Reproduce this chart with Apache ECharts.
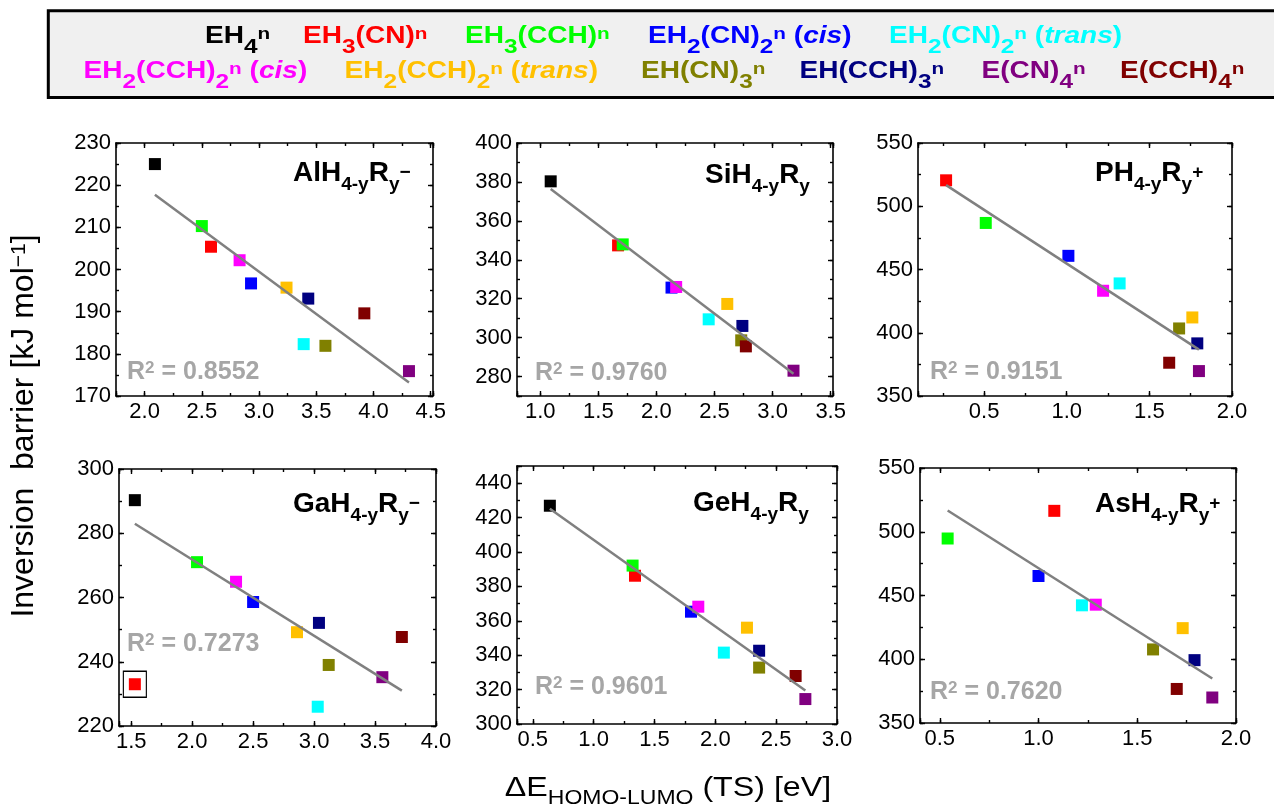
<!DOCTYPE html>
<html>
<head>
<meta charset="utf-8">
<title>Inversion barrier vs HOMO-LUMO gap</title>
<script src="https://cdn.jsdelivr.net/npm/echarts@6.0.0/dist/echarts.min.js"></script>
<style>
  html, body { margin: 0; padding: 0; background: #ffffff; }
  #chart { width: 1274px; height: 809px; }
</style>
</head>
<body>
<div id="chart"></div>
<script>
// Substitution patterns, in drawing order
const species = ['EH4', 'EH3(CN)', 'EH3(CCH)', 'EH2(CN)2 cis', 'EH2(CN)2 trans', 'EH2(CCH)2 cis',
  'EH2(CCH)2 trans', 'EH(CN)3', 'EH(CCH)3', 'E(CN)4', 'E(CCH)4'];
const speciesColors = ['#000000', '#ff0000', '#00ff00', '#0000ff', '#00ffff', '#ff00ff',
  '#ffc000', '#808000', '#000080', '#800080', '#800000'];
const speciesLabels = [
  '{b|EH}{s|4}{p|n}',
  '{b|EH}{s|3}{b|(CN)}{p|n}',
  '{b|EH}{s|3}{b|(CCH)}{p|n}',
  '{b|EH}{s|2}{b|(CN)}{s|2}{p|n}{b| (}{i|cis}{b|)}',
  '{b|EH}{s|2}{b|(CN)}{s|2}{p|n}{b| (}{i|trans}{b|)}',
  '{b|EH}{s|2}{b|(CCH)}{s|2}{p|n}{b| (}{i|cis}{b|)}',
  '{b|EH}{s|2}{b|(CCH)}{s|2}{p|n}{b| (}{i|trans}{b|)}',
  '{b|EH(CN)}{s|3}{p|n}',
  '{b|EH(CCH)}{s|3}{p|n}',
  '{b|E(CN)}{s|4}{p|n}',
  '{b|E(CCH)}{s|4}{p|n}'
];

// ΔE HOMO-LUMO (TS) in eV and inversion barrier in kJ/mol, one entry per species (null = not computed)
const alGap     = [2.09, 2.58, 2.50, 2.93, 3.39, 2.83, 3.24, 3.58, 3.43, 4.31, 3.92];
const alBarrier = [225.0, 205.4, 210.3, 196.7, 182.3, 202.2, 195.7, 181.9, 193.1, 175.9, 189.6];

const siGap     = [1.09, 1.67, 1.71, 2.13, 2.45, 2.17, 2.61, 2.73, 2.74, 3.18, 2.77];
const siBarrier = [380.3, 347.4, 347.9, 325.7, 309.4, 326.0, 317.3, 298.6, 306.0, 283.0, 295.5];

const pGap      = [null, 0.27, 0.51, 1.01, 1.32, 1.22, 1.76, 1.68, 1.79, 1.80, 1.62];
const pBarrier  = [null, 520.5, 486.8, 460.8, 439.0, 433.2, 412.1, 403.4, 391.6, 369.7, 376.3];

const gaGap     = [1.53, 1.53, 2.04, 2.50, 3.03, 2.36, 2.86, 3.12, 3.04, 3.56, 3.72];
const gaBarrier = [290.3, 233.0, 271.0, 258.6, 226.0, 264.9, 249.2, 239.0, 252.1, 235.2, 247.7];

const geGap     = [0.64, 1.34, 1.32, 1.80, 2.07, 1.86, 2.26, 2.36, 2.36, 2.74, 2.66];
const geBarrier = [426.9, 386.2, 392.1, 365.3, 341.5, 368.2, 356.0, 332.8, 342.6, 314.5, 327.9];

const asGap     = [null, 1.08, 0.54, 1.00, 1.22, 1.29, 1.73, 1.58, 1.79, 1.88, 1.70];
const asBarrier = [null, 516.4, 494.7, 465.3, 442.3, 442.8, 424.4, 407.7, 399.3, 370.0, 376.7];

const centralAtoms = ['Al', 'Si', 'P', 'Ga', 'Ge', 'As'];
const charges      = ['−', '', '+', '−', '', '+'];
const r2Labels     = ['0.8552', '0.9760', '0.9151', '0.7273', '0.9601', '0.7620'];
// species left out of the linear fit (boxed)
const fitOutliers  = [[], [], [], ['EH3(CN)'], [], []];

const gaps     = [alGap, siGap, pGap, gaGap, geGap, asGap];
const barriers = [alBarrier, siBarrier, pBarrier, gaBarrier, geBarrier, asBarrier];

// Panel geometry: grid [left, top, width, height], axis [min, max, major step], text anchors
const panelLayout = [
  { grid: [116, 143, 317, 253], x: [1.75, 4.52, 0.5], y: [170, 230, 10], title: [293, 165], r2: [127, 365] },
  { grid: [517, 143, 316, 253], x: [0.8, 3.52, 0.5],  y: [270, 400, 20], title: [705, 167], r2: [535, 366] },
  { grid: [918, 143, 314, 253], x: [0.1, 2.0, 0.5],   y: [350, 550, 50], title: [1095, 165], r2: [930, 365] },
  { grid: [119, 469, 317, 257], x: [1.4, 4.0, 0.5],   y: [220, 300, 20], title: [293, 496], r2: [127, 637] },
  { grid: [517, 466, 320, 258], x: [0.37, 3.0, 0.5],  y: [300, 450, 20], title: [693, 495], r2: [535, 680] },
  { grid: [920, 468, 316, 255], x: [0.4, 2.0, 0.5],   y: [350, 550, 50], title: [1095, 496], r2: [930, 685] }
];

const legendRows = [
  { top: 25, items: [[0, 205], [1, 303], [2, 465], [3, 648], [4, 889]] },
  { top: 60, items: [[5, 83.5], [6, 344.6], [7, 641], [8, 799.5], [9, 981.5], [10, 1120]] }
];

const FONT = '"Liberation Sans", Arial, Helvetica, sans-serif';

function onStep(v, step) {
  const k = v / step;
  return Math.abs(k - Math.round(k)) < 1e-6;
}

function valueAxis(g, range, step, position, major, labelled, decimals) {
  const interval = major ? step : step / 2;
  return {
    type: 'value',
    gridIndex: g,
    position: position,
    min: range[0],
    max: range[1],
    minInterval: interval,
    maxInterval: interval,
    axisLine: { show: major, onZero: false, lineStyle: { color: '#000', width: 1.6 } },
    axisTick: { show: true, inside: true, length: major ? 5 : 3, lineStyle: { color: '#000', width: 1.4 } },
    axisLabel: labelled ? {
      show: true,
      margin: 5,
      color: '#000',
      fontFamily: FONT,
      fontSize: 22,
      formatter: v => onStep(v, step) ? v.toFixed(decimals) : ''
    } : { show: false },
    splitLine: { show: false },
    minorTick: { show: false }
  };
}

function linearFit(xs, ys) {
  const n = xs.length;
  const mx = xs.reduce((a, b) => a + b, 0) / n;
  const my = ys.reduce((a, b) => a + b, 0) / n;
  let sxy = 0, sxx = 0;
  for (let i = 0; i < n; i++) {
    sxy += (xs[i] - mx) * (ys[i] - my);
    sxx += (xs[i] - mx) * (xs[i] - mx);
  }
  const slope = sxy / sxx;
  return { slope, intercept: my - slope * mx };
}

const grids = [], xAxes = [], yAxes = [], series = [], titles = [];

const titleRich = {
  m: { fontFamily: FONT, fontSize: 28, fontWeight: 'bold', color: '#000', lineHeight: 34, verticalAlign: 'top' },
  s: { fontFamily: FONT, fontSize: 19, fontWeight: 'bold', color: '#000', lineHeight: 19, verticalAlign: 'top', padding: [16, 0, 0, 0] },
  p: { fontFamily: FONT, fontSize: 19, fontWeight: 'bold', color: '#000', lineHeight: 19, verticalAlign: 'top', padding: [4, 0, 0, 0] }
};
const r2Rich = {
  r: { fontFamily: FONT, fontSize: 25, fontWeight: 'bold', color: '#a6a6a6', lineHeight: 30, verticalAlign: 'top' },
  q: { fontFamily: FONT, fontSize: 17, fontWeight: 'bold', color: '#a6a6a6', lineHeight: 12, verticalAlign: 'top' }
};

panelLayout.forEach((L, g) => {
  grids.push({ left: L.grid[0], top: L.grid[1], width: L.grid[2], height: L.grid[3], containLabel: false });

  xAxes.push(valueAxis(g, L.x.slice(0, 2), L.x[2], 'bottom', true, true, 1));
  xAxes.push(valueAxis(g, L.x.slice(0, 2), L.x[2], 'bottom', false, false, 1));
  xAxes.push(valueAxis(g, L.x.slice(0, 2), L.x[2], 'top', true, false, 1));
  xAxes.push(valueAxis(g, L.x.slice(0, 2), L.x[2], 'top', false, false, 1));
  yAxes.push(valueAxis(g, L.y.slice(0, 2), L.y[2], 'left', true, true, 0));
  yAxes.push(valueAxis(g, L.y.slice(0, 2), L.y[2], 'left', false, false, 0));
  yAxes.push(valueAxis(g, L.y.slice(0, 2), L.y[2], 'right', true, false, 0));
  yAxes.push(valueAxis(g, L.y.slice(0, 2), L.y[2], 'right', false, false, 0));

  const ax = { xAxisIndex: 4 * g, yAxisIndex: 4 * g };
  const gx = gaps[g], by = barriers[g];

  species.forEach((name, i) => {
    if (gx[i] == null) return;
    series.push(Object.assign({
      type: 'scatter', name: name, symbol: 'rect', symbolSize: 12,
      itemStyle: { color: speciesColors[i], opacity: 1 },
      data: [[gx[i], by[i]]], z: 3
    }, ax));
  });

  // least-squares line over the fitted species
  const fx = [], fy = [];
  species.forEach((name, i) => {
    if (gx[i] == null || fitOutliers[g].includes(name)) return;
    fx.push(gx[i]); fy.push(by[i]);
  });
  const fit = linearFit(fx, fy);
  const x0 = Math.min(...fx), x1 = Math.max(...fx);
  series.push(Object.assign({
    type: 'line', name: 'fit', silent: true, symbol: 'none',
    lineStyle: { color: '#808080', width: 2.5 },
    data: [[x0, fit.intercept + fit.slope * x0], [x1, fit.intercept + fit.slope * x1]],
    z: 4
  }, ax));

  // frame around excluded points
  fitOutliers[g].forEach(name => {
    const i = species.indexOf(name);
    series.push(Object.assign({
      type: 'scatter', name: 'excluded', silent: true, symbol: 'rect', symbolSize: [23, 26],
      itemStyle: { color: 'rgba(0,0,0,0)', borderColor: '#000', borderWidth: 1.2, opacity: 1 },
      data: [[gx[i], by[i]]], z: 2
    }, ax));
  });

  const chargeTxt = charges[g] ? `{p|${charges[g]}}` : '';
  titles.push({
    left: L.title[0], top: L.title[1] - 6, padding: 0,
    text: `{m|${centralAtoms[g]}H}{s|4-y}{m|R}{s|y}${chargeTxt}`,
    textStyle: { rich: titleRich }
  });
  titles.push({
    left: L.r2[0], top: L.r2[1] - 5, padding: 0,
    text: `{r|R}{q|2}{r| = ${r2Labels[g]}}`,
    textStyle: { rich: r2Rich }
  });
});

const legendRich = {
  b: { fontFamily: FONT, fontSize: 23, fontWeight: 'bold', lineHeight: 30, verticalAlign: 'top' },
  i: { fontFamily: FONT, fontSize: 23, fontWeight: 'bold', fontStyle: 'italic', lineHeight: 30, verticalAlign: 'top' },
  s: { fontFamily: FONT, fontSize: 20, fontWeight: 'bold', lineHeight: 20, verticalAlign: 'top', padding: [12, 0, 0, 0] },
  p: { fontFamily: FONT, fontSize: 17, fontWeight: 'bold', lineHeight: 17, verticalAlign: 'top', padding: [1, 0, 0, 0] }
};

const graphics = [
  {
    type: 'rect', z: 0,
    shape: { x: 48.3, y: 10.7, width: 1240, height: 86.8 },
    style: { fill: '#f0f0f0', stroke: '#000', lineWidth: 3 }
  }
];
legendRows.forEach(row => {
  row.items.forEach(([idx, x]) => {
    graphics.push({
      type: 'text', z: 1, x: x, y: row.top, scaleX: 1.22,
      style: {
        text: speciesLabels[idx], fill: speciesColors[idx],
        rich: legendRich, align: 'left', verticalAlign: 'top'
      }
    });
  });
});

// axis titles
graphics.push({
  type: 'text', z: 1, x: 668, y: 774, scaleX: 1.15,
  style: {
    text: '{a|ΔE}{s|HOMO-LUMO}{a| (TS) [eV]}',
    fill: '#000', align: 'center', verticalAlign: 'top',
    rich: {
      a: { fontFamily: FONT, fontSize: 28, lineHeight: 34, verticalAlign: 'top' },
      s: { fontFamily: FONT, fontSize: 20, lineHeight: 20, verticalAlign: 'top', padding: [14, 0, 0, 0] }
    }
  }
});
graphics.push({
  type: 'text', z: 1, x: 27, y: 426, rotation: Math.PI / 2,
  style: {
    text: '{a|Inversion  barrier [kJ mol}{u|−1}{a|]}',
    fill: '#000', align: 'center', verticalAlign: 'middle',
    rich: {
      a: { fontFamily: FONT, fontSize: 32, lineHeight: 38, verticalAlign: 'top' },
      u: { fontFamily: FONT, fontSize: 21, lineHeight: 21, verticalAlign: 'top', padding: [1, 0, 0, 0] }
    }
  }
});

const chart = echarts.init(document.getElementById('chart'), null, { renderer: 'canvas' });
chart.setOption({
  animation: false,
  backgroundColor: '#ffffff',
  textStyle: { fontFamily: FONT },
  grid: grids,
  xAxis: xAxes,
  yAxis: yAxes,
  title: titles,
  graphic: graphics,
  series: series
});
</script>
</body>
</html>
